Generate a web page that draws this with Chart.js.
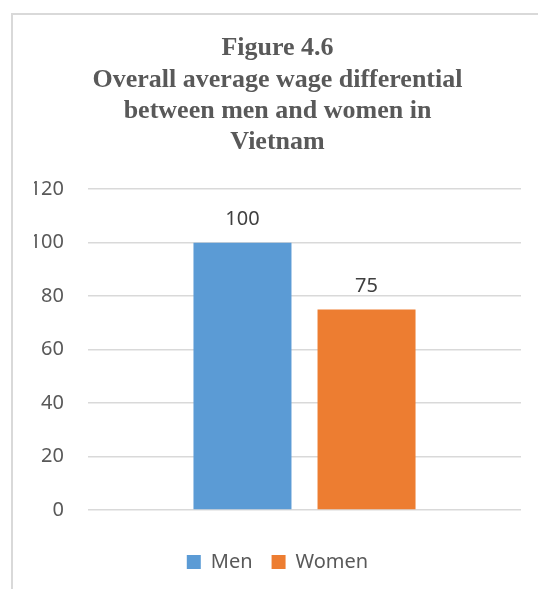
<!DOCTYPE html>
<html>
<head>
<meta charset="utf-8">
<script src="https://cdn.jsdelivr.net/npm/chart.js@4"></script>
<style>
  html, body { margin: 0; padding: 0; background: #fff; overflow: hidden; }
  #frame {
    position: absolute; left: 11px; top: 13px; width: 600px; height: 640px;
    border-top: 2px solid #d9d9d9; border-left: 2px solid #d9d9d9;
  }
  #wrap { position: absolute; left: 0; top: 0; width: 538px; height: 589px; }
</style>
</head>
<body>
<div id="frame"></div>
<div id="wrap"><canvas id="wageChart"></canvas></div>
<script>
const categories = [''];
const seriesNames = ['Men', 'Women'];
const menValues = [100];
const womenValues = [75];
const yTicks = [0, 20, 40, 60, 80, 100, 120];

const titleLines = [
  'Figure 4.6',
  'Overall average wage differential',
  'between men and women in',
  'Vietnam'
];

// value labels above each bar
const barValues = {
  id: 'barValues',
  afterDatasetsDraw(chart) {
    const c = chart.ctx;
    c.save();
    c.font = '20px "Noto Sans"';
    c.fillStyle = '#404040';
    c.textAlign = 'center';
    c.textBaseline = 'alphabetic';
    chart.data.datasets.forEach((ds, i) => {
      chart.getDatasetMeta(i).data.forEach((bar, j) => {
        c.fillText(ds.data[j], bar.x, bar.y - 18);
      });
    });
    c.restore();
  }
};

new Chart(document.getElementById('wageChart'), {
  type: 'bar',
  data: {
    labels: categories,
    datasets: [
      { label: seriesNames[0], data: menValues, backgroundColor: '#5B9BD5' },
      { label: seriesNames[1], data: womenValues, backgroundColor: '#ED7D31' }
    ]
  },
  options: {
    responsive: true,
    maintainAspectRatio: false,
    animation: false,
    categoryPercentage: 0.573,
    barPercentage: 0.79,
    layout: { padding: { left: 34, right: 17, top: 0, bottom: 7 } },
    plugins: {
      title: {
        display: true,
        text: titleLines,
        color: '#595959',
        font: { family: '"Liberation Serif", "Times New Roman", serif', size: 26, weight: 'bold', lineHeight: 31.3 / 26 },
        padding: { top: 33, bottom: 31 }
      },
      legend: {
        position: 'bottom',
        labels: {
          boxWidth: 14,
          boxHeight: 14,
          padding: 19,
          color: '#595959',
          font: { family: '"Noto Sans"', size: 20 }
        }
      },
      tooltip: { enabled: false }
    },
    scales: {
      x: {
        grid: { display: false },
        border: { display: false },
        ticks: { display: false },
        afterFit(scale) { scale.height = 23; }
      },
      y: {
        min: 0,
        max: 120,
        afterBuildTicks(scale) { scale.ticks = yTicks.map(v => ({ value: v })); },
        grid: { color: '#d9d9d9', lineWidth: 1.5, drawTicks: false },
        border: { display: false },
        ticks: {
          padding: 24,
          color: '#595959',
          font: { family: '"Noto Sans"', size: 20 }
        },
        afterFit(scale) { scale.width = 54; }
      }
    }
  },
  plugins: [barValues]
});
</script>
</body>
</html>
